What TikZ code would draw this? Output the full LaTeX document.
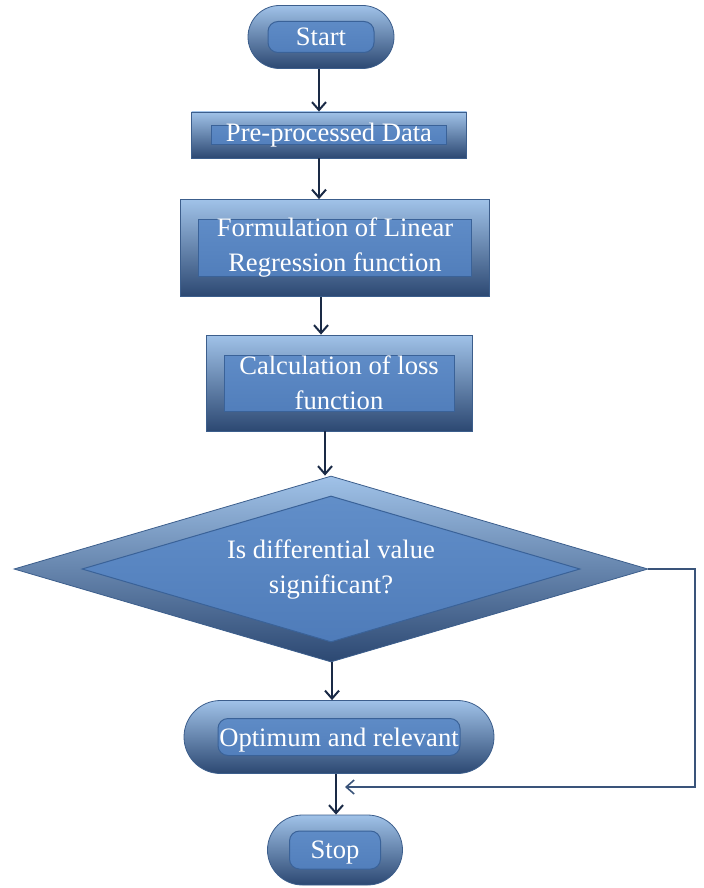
\documentclass[tikz,border=0pt]{standalone}
\usepackage{fontspec}
\setmainfont{Liberation Serif}
\usetikzlibrary{shapes.geometric,shapes.misc,calc,arrows.meta}

\definecolor{bevelhi}{RGB}{160,194,232}
\definecolor{bevelmid}{RGB}{88,132,192}
\definecolor{bevellow}{RGB}{44,72,114}
\definecolor{facetop}{RGB}{100,145,203}
\definecolor{facebot}{RGB}{76,121,183}
\definecolor{faceline}{RGB}{58,98,152}
\definecolor{edgeline}{RGB}{60,94,140}
\definecolor{flowline}{RGB}{26,42,70}
\definecolor{loopline}{RGB}{58,84,122}

\tikzset{
  bevel/.style={top color=bevelhi, middle color=bevelmid, bottom color=bevellow, draw=edgeline,
    line width=0.4pt, text=white, align=center, inner sep=0pt, font=\fontsize{13.3}{17.5}\selectfont},
  face/.style={top color=facetop, bottom color=facebot, draw=faceline, line width=0.5pt},
  boxnode/.style 2 args={bevel, rectangle, path picture={
    \draw[face] ($(path picture bounding box.south west)+(#1,#2)$)
      rectangle ($(path picture bounding box.north east)+(-#1,-#2)$);}},
  pillnode/.style 2 args={bevel, rounded rectangle, text depth=0pt, path picture={
    \draw[face, rounded corners=5pt] ($(path picture bounding box.south west)+(#1,#2)$)
      rectangle ($(path picture bounding box.north east)+(-#1,-#2)$);}},
  decnode/.style={bevel, diamond, aspect=3.4, path picture={
    \draw[face] ($(path picture bounding box.west)+(34pt,0)$)
      -- ($(path picture bounding box.north)+(0,-10pt)$)
      -- ($(path picture bounding box.east)+(-34pt,0)$)
      -- ($(path picture bounding box.south)+(0,10pt)$) -- cycle;}},
  flow/.style={draw=flowline, line width=1pt, -{Straight Barb[length=4pt,width=7pt]}},
  loop/.style={draw=loopline, line width=0.8pt, -{Straight Barb[length=4pt,width=7pt]}}
}

\begin{document}
\begin{tikzpicture}[x=0.5pt,y=-0.5pt]
\useasboundingbox (0,0) rectangle (703,888);
\node[pillnode={10pt}{8pt}, minimum width=73pt, minimum height=31.5pt] (start) at (321,37) {Start};
\node[boxnode={10pt}{7pt}, minimum width=137.5pt, minimum height=23pt] (data) at (329,135) {Pre-processed Data};
\node[boxnode={9pt}{10pt}, minimum width=154.5pt, minimum height=48.5pt] (model) at (335,248) {Formulation of Linear\\Regression function};
\node[boxnode={9pt}{10pt}, minimum width=133pt, minimum height=48pt] (loss) at (339,383) {Calculation of loss\\function};
\node[decnode, minimum width=317pt, minimum height=93pt] (test) at (331,569) {Is differential value\\significant?};
\node[pillnode={17pt}{9pt}, minimum width=155pt, minimum height=36.5pt] (best) at (339,737) {Optimum and relevant};
\node[pillnode={11pt}{8pt}, minimum width=67.5pt, minimum height=35pt] (stop) at (335,850) {Stop};
\coordinate (join) at (345,787);

\draw[flow] (start.south -| 319,0) -- (319,0 |- data.north);
\draw[flow] (data.south -| 319,0) -- (319,0 |- model.north);
\draw[flow] (model.south -| 321,0) -- (321,0 |- loss.north);
\draw[flow] (loss.south -| 325,0) -- (325,0 |- test.north);
\draw[flow] (test.south -| 332,0) -- (332,0 |- best.north);
\draw[flow] (best.south -| 336,0) -- (336,0 |- stop.north);
\draw[loop] (test.east) -- (695,0 |- test.east) |- (join);
\end{tikzpicture}
\end{document}
